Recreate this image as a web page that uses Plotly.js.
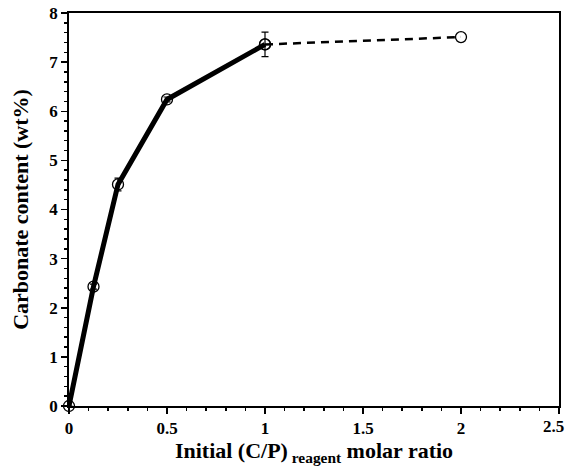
<!DOCTYPE html>
<html>
<head>
<meta charset="utf-8">
<script src="https://cdn.plot.ly/plotly-3.0.1.min.js"></script>
<style>html,body{margin:0;padding:0;background:#fff;}#chart{width:566px;height:466px;}</style>
</head>
<body>
<div id="chart"></div>
<script>
// Data
var ratio = [0, 0.125, 0.25, 0.5, 1];
var carbonate = [0, 2.43, 4.51, 6.24, 7.36];
var carbonateErr = [0, 0.05, 0.13, 0.05, 0.25];
var extRatio = [1, 2];
var extCarbonate = [7.36, 7.51];
var xTicks = [0, 0.5, 1, 1.5, 2, 2.5];
var xTickText = ['0', '0.5', '1', '1.5', '2', ''];
var lastXTickText = '2.5';
var yTicks = [0, 1, 2, 3, 4, 5, 6, 7, 8];

var FONT = 'Liberation Serif, Times New Roman, serif';

var traces = [
  {
    x: extRatio, y: extCarbonate, type: 'scatter', mode: 'lines+markers',
    line: {color: '#000', width: 2.5, dash: '8px,6px'},
    marker: {symbol: 'circle-open', size: 11, color: '#000', line: {width: 1.3}},
    cliponaxis: false, showlegend: false
  },
  {
    x: ratio, y: carbonate, type: 'scatter', mode: 'lines+markers',
    line: {color: '#000', width: 5},
    marker: {symbol: 'circle-open', size: 11, color: '#000', line: {width: 1.3}},
    error_y: {type: 'data', array: carbonateErr, visible: true, color: '#000', thickness: 1.2, width: 3.5},
    cliponaxis: false, showlegend: false
  }
];

var layout = {
  width: 566, height: 466,
  margin: {l: 69, r: 7, t: 13, b: 60},
  paper_bgcolor: '#fff', plot_bgcolor: '#fff',
  font: {family: FONT, color: '#000', size: 16, weight: 'bold'},
  xaxis: {
    range: [0, 2.5], tickvals: xTicks, ticktext: xTickText,
    showline: true, mirror: true, linecolor: '#000', linewidth: 1.8,
    ticks: 'outside', ticklen: 6, tickwidth: 1.5, tickcolor: '#000',
    minor: {dtick: 0.1, ticks: 'outside', ticklen: 3, tickwidth: 1.5, tickcolor: '#000', showgrid: false},
    showgrid: false, zeroline: false, automargin: false,
    tickfont: {family: FONT, size: 17, weight: 'bold', color: '#000'},
    title: {text: 'Initial (C/P)<sub> reagent</sub> molar ratio', standoff: 8,
            font: {family: FONT, size: 22, weight: 'bold', color: '#000'}}
  },
  yaxis: {
    range: [0, 8], tickvals: yTicks,
    showline: true, mirror: true, linecolor: '#000', linewidth: 1.8,
    ticks: 'outside', ticklen: 6, tickwidth: 1.5, tickcolor: '#000',
    minor: {dtick: 0.2, ticks: 'outside', ticklen: 3, tickwidth: 1.5, tickcolor: '#000', showgrid: false},
    showgrid: false, zeroline: false, automargin: false,
    tickfont: {family: FONT, size: 17, weight: 'bold', color: '#000'},
    title: {text: 'Carbonate content (wt%)', standoff: 14,
            font: {family: FONT, size: 22, weight: 'bold', color: '#000'}}
  },
  annotations: [{
    text: lastXTickText, xref: 'x', yref: 'paper', x: 2.5, y: 0,
    xanchor: 'right', yanchor: 'top', xshift: 7, yshift: -9, showarrow: false,
    font: {family: FONT, size: 17, weight: 'bold', color: '#000'}
  }]
};

Plotly.newPlot('chart', traces, layout, {displayModeBar: false, staticPlot: true});
</script>
</body>
</html>
